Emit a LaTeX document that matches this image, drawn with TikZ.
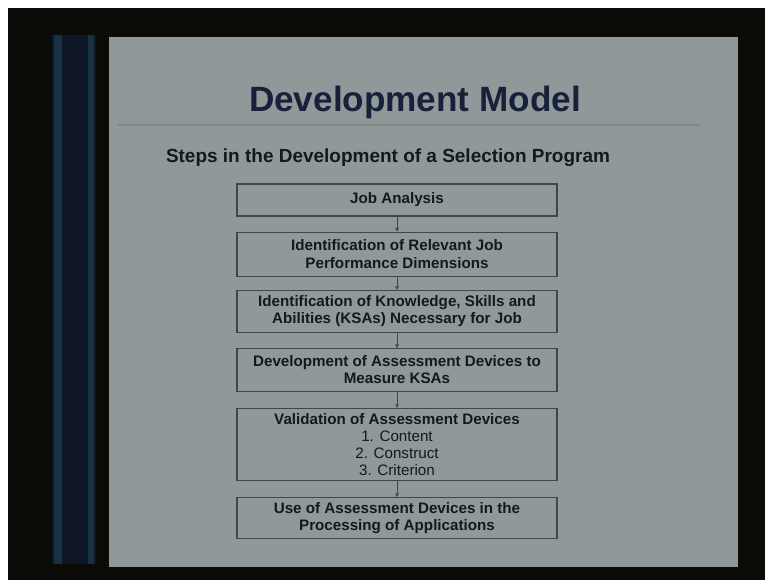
\documentclass[tikz,border=0pt]{standalone}
\usepackage{fontspec}
\setmainfont{Liberation Sans}
\usetikzlibrary{arrows.meta, positioning}
\usepackage{xcolor}
\definecolor{SlideGrey}{HTML}{8F999A}
\definecolor{SlideNavy}{HTML}{18203A}
\definecolor{FrameBlack}{HTML}{0C0B08}
\definecolor{StripeDark}{HTML}{0E1524}
\definecolor{StripeTeal}{HTML}{173243}
\definecolor{RuleGrey}{HTML}{7D8889}
\definecolor{BoxLine}{HTML}{40474A}
\definecolor{TextBlack}{HTML}{16181A}
\tikzset{
    % Text styles
    slidetitle/.style={
        text=SlideNavy,
        font=\fontsize{25}{28}\selectfont\bfseries
    },
    subtitle/.style={
        text=TextBlack,
        font=\fontsize{13.5}{16}\selectfont\bfseries
    },
    % Box styles - all sharp corners
    stepbox/.style={
        rectangle,
        draw=BoxLine,
        fill=SlideGrey,
        line width=0.8pt,
        minimum width=8cm,
        minimum height=0.8cm,
        inner sep=2pt,
        align=center,
        text=TextBlack,
        font=\fontsize{10.8}{12.2}\selectfont\bfseries
    },
    % Arrow styles - straight lines only
    arrow/.style={
        -{Stealth[length=3pt, width=3pt]},
        line width=0.6pt,
        draw=BoxLine
    }
}
\begin{document}
\begin{tikzpicture}
    % Screen, frame and side stripe
    \useasboundingbox (0,0) rectangle (19.125,-14.5);
    \fill[white] (0,0) rectangle (19.125,-14.5);
    \fill[FrameBlack] (0.2,-0.2) rectangle (19.125,-14.5);
    \fill[StripeDark] (1.3,-0.875) rectangle (2.4,-14.1);
    \fill[StripeTeal] (1.36,-0.875) rectangle (1.56,-14.1);
    \fill[StripeTeal] (2.2,-0.875) rectangle (2.36,-14.1);
    \fill[SlideGrey] (2.725,-0.925) rectangle (18.45,-14.175);

    % Heading
    \node[slidetitle] (title) at (10.375,-2.55) {Development Model};
    \draw[RuleGrey, line width=0.8pt] (2.95,-3.125) -- (17.5,-3.125);
    \node[subtitle] (steps) at (9.7,-3.95) {Steps in the Development of a Selection Program};

    % Steps
    \node[stepbox] (job) at (9.925,-5.0) {Job Analysis};
    \node[stepbox, minimum height=1.1cm, below=0.375cm of job] (dims) {Identification of Relevant Job\\Performance Dimensions};
    \node[stepbox, minimum height=1.05cm, below=0.33cm of dims] (ksa) {Identification of Knowledge, Skills and\\Abilities (KSAs) Necessary for Job};
    \node[stepbox, minimum height=1.07cm, below=0.375cm of ksa] (devices) {Development of Assessment Devices to\\Measure KSAs};
    \node[stepbox, minimum height=1.8cm, below=0.4cm of devices] (valid) {Validation of Assessment Devices\\{\mdseries 1. Content}\\{\mdseries 2. Construct}\\{\mdseries 3. Criterion}};
    \node[stepbox, minimum height=1.02cm, below=0.4cm of valid] (use) {Use of Assessment Devices in the\\Processing of Applications};

    \draw[arrow] (job) -- (dims);
    \draw[arrow] (dims) -- (ksa);
    \draw[arrow] (ksa) -- (devices);
    \draw[arrow] (devices) -- (valid);
    \draw[arrow] (valid) -- (use);
\end{tikzpicture}
\end{document}
